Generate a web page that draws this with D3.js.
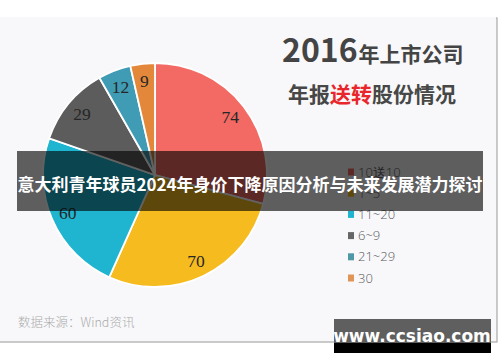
<!DOCTYPE html>
<html>
<head>
<meta charset="utf-8">
<script src="https://cdn.jsdelivr.net/npm/d3@7"></script>
<style>
  body { margin: 0; background: #fff; }
  svg { display: block; }
  .cjk { font-family: "Noto Sans CJK SC", "Noto Sans", sans-serif; }
</style>
</head>
<body>
<div id="chart"></div>
<script>
const categories = ["10送10", "1~5", "11~20", "6~9", "21~29", "30"];
const values = [74, 70, 60, 29, 12, 9];
const colors = ["#f26a63", "#f6bb1f", "#1fb5d1", "#5c5c5c", "#409cb4", "#e3883b"];
const legendColors = ["#f26a63", "#f6bb1f", "#1fb5d1", "#666666", "#4f98a6", "#e09455"];

const width = 500, height = 362;
const cx = 155, cy = 175, radius = 112;

const svg = d3.select("#chart").append("svg")
    .attr("width", width)
    .attr("height", height);

// panel
svg.append("rect")
    .attr("x", -1).attr("y", 18)
    .attr("width", 498).attr("height", 324)
    .attr("fill", "#f8f8fa")
    .attr("stroke", "#a8a8a8")
    .attr("stroke-width", 1.2);
svg.append("rect")
    .attr("x", -2).attr("y", 17)
    .attr("width", 498).attr("height", 2)
    .attr("fill", "#f8f8fa");

const data = categories.map((c, i) => ({ name: c, value: values[i], color: colors[i] }));

const pie = d3.pie().sort(null).value(d => d.value);
const arc = d3.arc().innerRadius(0).outerRadius(radius);
const labelArc = d3.arc().innerRadius(95).outerRadius(95);

const g = svg.append("g").attr("transform", `translate(${cx},${cy})`);

g.selectAll("path")
    .data(pie(data))
    .join("path")
    .attr("d", arc)
    .attr("fill", d => d.data.color)
    .attr("stroke", "#ffffff")
    .attr("stroke-width", 1.8);

g.selectAll("text")
    .data(pie(data))
    .join("text")
    .attr("transform", d => `translate(${labelArc.centroid(d)})`)
    .attr("text-anchor", "middle")
    .attr("dy", "0.35em")
    .attr("font-family", "'Liberation Serif', 'DejaVu Serif', serif")
    .attr("font-size", 17.5)
    .attr("fill", "#262626")
    .text(d => d.data.value);

// title
const title = svg.append("text")
    .attr("class", "cjk")
    .attr("x", 282).attr("y", 62)
    .attr("fill", "#444")
    .attr("font-weight", "bold");
title.append("tspan").attr("font-size", 32).text("2016");
title.append("tspan").attr("font-size", 21).attr("dx", 1).text("年上市公司");

const sub = svg.append("text")
    .attr("class", "cjk")
    .attr("x", 288).attr("y", 102)
    .attr("font-size", 21)
    .attr("font-weight", "bold")
    .attr("fill", "#474747");
sub.append("tspan").text("年报");
sub.append("tspan").attr("fill", "#e8262c").text("送转");
sub.append("tspan").text("股份情况");

// legend
const legend = svg.append("g").attr("transform", "translate(348,172)");
const item = legend.selectAll("g")
    .data(categories)
    .join("g")
    .attr("transform", (d, i) => `translate(0,${i * 21.2})`);
item.append("rect")
    .attr("x", 0).attr("y", -3.5)
    .attr("width", 6).attr("height", 7)
    .attr("fill", (d, i) => legendColors[i]);
item.append("text")
    .attr("x", 10)
    .attr("dy", "0.36em")
    .attr("font-family", "'Open Sans', 'DejaVu Sans', sans-serif")
    .attr("font-size", 13)
    .attr("font-weight", 300)
    .attr("fill", "#5a5a5a")
    .text(d => d);

// source
svg.append("text")
    .attr("class", "cjk")
    .attr("x", 18).attr("y", 327)
    .attr("font-size", 12.5)
    .attr("font-weight", 300)
    .attr("fill", "#ababab")
    .text("数据来源：Wind资讯");

// banner
svg.append("rect")
    .attr("x", 17).attr("y", 151)
    .attr("width", 466).attr("height", 60)
    .attr("fill", "rgba(0,0,0,0.62)");
svg.append("text")
    .attr("class", "cjk")
    .attr("x", 250).attr("y", 191)
    .attr("text-anchor", "middle")
    .attr("font-size", 17)
    .attr("font-weight", "bold")
    .attr("fill", "#ffffff")
    .text("意大利青年球员2024年身价下降原因分析与未来发展潜力探讨");

// watermark
svg.append("rect")
    .attr("x", 334).attr("y", 319)
    .attr("width", 157).attr("height", 25)
    .attr("fill", "#5f5f5f");
svg.append("rect")
    .attr("x", 334).attr("y", 343)
    .attr("width", 157).attr("height", 10)
    .attr("fill", "#000");
svg.append("text")
    .attr("x", 412).attr("y", 342)
    .attr("text-anchor", "middle")
    .attr("font-family", "'DejaVu Sans', sans-serif")
    .attr("font-size", 17)
    .attr("font-weight", "bold")
    .attr("fill", "#ffffff")
    .text("www.ccsiao.com");
</script>
</body>
</html>
